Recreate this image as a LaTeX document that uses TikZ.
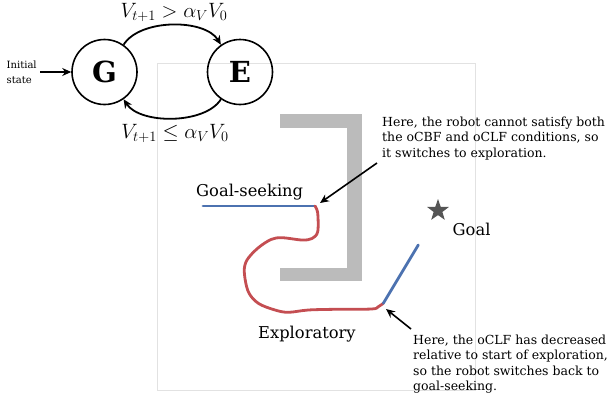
\documentclass[tikz,border=0pt]{standalone}
\usepackage{fontspec}
\setmainfont{DejaVu Serif}
\usetikzlibrary{arrows.meta,shapes.geometric}
\definecolor{wallgray}{HTML}{BBBBBB}
\definecolor{pathblue}{HTML}{4C72B0}
\definecolor{pathred}{HTML}{C44E52}
\definecolor{stargray}{HTML}{555555}
\definecolor{boxgray}{HTML}{E2E2E2}
\tikzset{
  state/.style={draw, circle, line width=1.6pt, minimum size=65pt, inner sep=0pt},
  trans/.style={line width=1.8pt, -{Stealth[length=9pt,width=8pt]}},
  pointer/.style={line width=1.6pt, -{Stealth[length=9pt,width=8pt]}},
  note/.style={align=left, font=\fontsize{12.5}{15.5}\selectfont, inner sep=0pt, anchor=north west},
  label/.style={font=\fontsize{16.3}{19}\selectfont, inner sep=0pt},
  mathlabel/.style={font=\fontsize{19.5}{22}\selectfont, inner sep=0pt, anchor=base},
  blueseg/.style={pathblue, line width=2.8pt, line cap=round},
  redseg/.style={pathred, line width=2.8pt, line cap=round, line join=round},
}
\begin{document}
\begin{tikzpicture}[x=1pt,y=-1pt]
\useasboundingbox (0,0) rectangle (611,400);
% arena
\draw[boxgray, line width=0.8pt] (157.3,63.3) rectangle (475.7,390);
% wall
\fill[wallgray] (280,114) rectangle (361.5,127.5);
\fill[wallgray] (346.7,114) rectangle (361.5,281);
\fill[wallgray] (280,267.5) rectangle (361.5,281);
% state machine
\node[state] (G) at (104.5,72) {\fontsize{29}{30}\selectfont$\mathbf{G}$};
\node[state] (E) at (240,72) {\fontsize{29}{30}\selectfont$\mathbf{E}$};
\node[align=left, inner sep=0pt, font=\fontsize{10}{15}\selectfont, anchor=west] (init) at (6.5,72) {Initial\\state};
\draw[trans] (init.east) ++(3.5,0) coordinate (initstart) (initstart) -- (G.west);
\draw[trans] (G.55) .. controls (140,18.5) and (205,18.5) .. (E.125);
\draw[trans] (E.-125) .. controls (205,124.5) and (140,124.5) .. (G.-55);
\node[mathlabel] (up) at (174,17.5) {$V_{t+1} > \alpha_V V_0$};
\node[mathlabel] (down) at (175,138.5) {$V_{t+1} \leq \alpha_V V_0$};
% trajectory
\coordinate (switchA) at (315,206);
\coordinate (switchB) at (383.3,303.3);
\coordinate (startpt) at (203,206);
\coordinate (endpt) at (418.3,245);
\draw[blueseg] (startpt) -- (switchA);
\draw[redseg] plot[smooth, tension=0.55] coordinates {
  (315,206) (317.7,213) (317.7,231.7) (312,238.5) (302,240) (282,237.7) (271,239.5)
  (258,248) (247,260) (244.3,272) (248.3,291.7) (258.3,303.3) (275,310)
  (288.3,312.3) (308.3,310) (335,309.3) (371.7,309) (378.3,306.7) (383.3,303.3)};
\draw[blueseg] (switchB) -- (endpt);
% goal
\node[star, star points=5, star point ratio=2.5, fill=stargray, minimum size=23pt, inner sep=0pt] (goal) at (438,210.5) {};
\node[label, anchor=base west] (goallbl) at (452.5,235) {Goal};
\node[label, anchor=base west] (gs) at (196,196) {Goal-seeking};
\node[label, anchor=base west] (ex) at (258,338) {Exploratory};
% annotations
\node[note] (noteA) at (382,116.5) {Here, the robot cannot satisfy both\\the oCBF and oCLF conditions, so\\it switches to exploration.};
\node[note] (noteB) at (413,334.5) {Here, the oCLF has decreased\\relative to start of exploration,\\so the robot switches back to\\goal-seeking.};
\coordinate (tailA) at (377,163);
\coordinate (headA) at (320,203);
\coordinate (tailB) at (411,329);
\coordinate (headB) at (386,309);
\draw[pointer] (tailA) -- (headA);
\draw[pointer] (tailB) -- (headB);
\end{tikzpicture}
\end{document}
